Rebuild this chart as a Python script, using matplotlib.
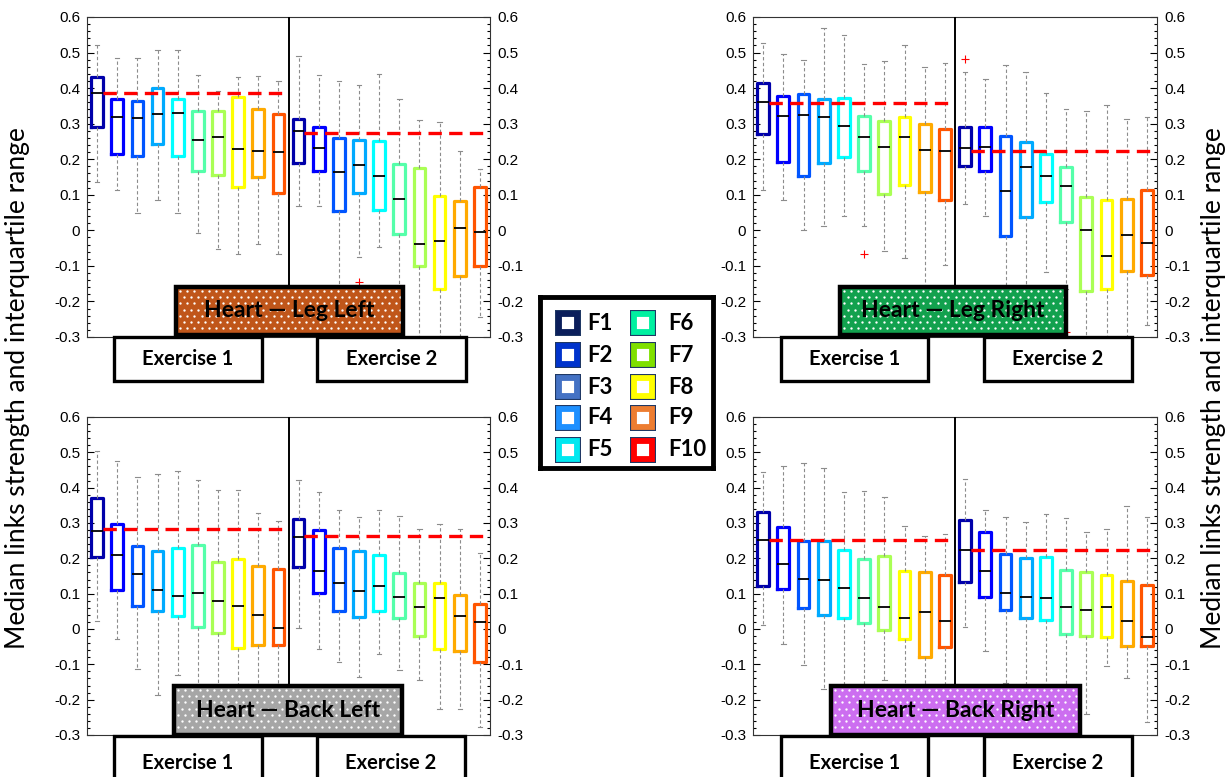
import matplotlib
matplotlib.use("Agg")
import matplotlib.pyplot as plt
import numpy as np
from matplotlib.patches import Rectangle
from matplotlib.lines import Line2D
from matplotlib.ticker import AutoMinorLocator, MultipleLocator

W, H = 1231, 777

# boxes F1..F10 for Exercise 1, then F1..F10 for Exercise 2
leg_left_hi = [0.52, 0.485, 0.485, 0.506, 0.506, 0.437, 0.392, 0.431, 0.434, 0.42,
               0.489, 0.436, 0.419, 0.409, 0.44, 0.368, 0.311, 0.306, 0.224, 0.173]
leg_left_q3 = [0.43, 0.37, 0.365, 0.40, 0.368, 0.337, 0.337, 0.375, 0.342, 0.326,
               0.314, 0.292, 0.259, 0.255, 0.25, 0.186, 0.175, 0.096, 0.083, 0.123]
leg_left_med = [0.386, 0.32, 0.316, 0.327, 0.33, 0.253, 0.263, 0.228, 0.224, 0.22,
                0.278, 0.232, 0.165, 0.184, 0.154, 0.088, -0.038, -0.031, 0.006, -0.004]
leg_left_q1 = [0.29, 0.215, 0.208, 0.243, 0.208, 0.167, 0.156, 0.123, 0.149, 0.104,
               0.189, 0.168, 0.054, 0.104, 0.057, -0.011, -0.1, -0.165, -0.128, -0.1]
leg_left_lo = [0.135, 0.113, 0.049, 0.085, 0.05, -0.008, -0.053, -0.067, -0.039, -0.067,
               0.069, 0.069, -0.25, -0.074, -0.046, -0.3, -0.33, -0.35, -0.32, -0.243]
leg_left_ref = [0.386, 0.275]
leg_left_out = {13: [-0.146]}

leg_right_hi = [0.527, 0.497, 0.48, 0.569, 0.548, 0.469, 0.476, 0.522, 0.46, 0.471,
                0.446, 0.425, 0.466, 0.444, 0.385, 0.342, 0.336, 0.352, 0.314, 0.319]
leg_right_q3 = [0.414, 0.379, 0.383, 0.369, 0.371, 0.321, 0.308, 0.318, 0.3, 0.285,
                0.291, 0.291, 0.264, 0.249, 0.216, 0.178, 0.095, 0.086, 0.089, 0.114]
leg_right_med = [0.36, 0.321, 0.324, 0.318, 0.293, 0.262, 0.234, 0.263, 0.227, 0.223,
                 0.232, 0.234, 0.111, 0.177, 0.153, 0.125, 0.0, -0.072, -0.014, -0.037]
leg_right_q1 = [0.27, 0.193, 0.153, 0.19, 0.206, 0.167, 0.103, 0.128, 0.107, 0.085,
                0.18, 0.166, -0.016, 0.037, 0.079, 0.023, -0.172, -0.164, -0.114, -0.126]
leg_right_lo = [0.114, 0.086, 0.002, 0.012, 0.041, 0.012, -0.058, -0.077, -0.22, -0.097,
                0.075, 0.041, -0.25, -0.2, -0.117, -0.165, -0.32, -0.32, -0.31, -0.265]
leg_right_ref = [0.358, 0.224]
leg_right_out = {5: [-0.067], 10: [0.482], 15: [-0.285]}

back_left_hi = [0.503, 0.476, 0.429, 0.44, 0.446, 0.423, 0.393, 0.393, 0.327, 0.306,
                0.421, 0.388, 0.336, 0.317, 0.338, 0.319, 0.284, 0.296, 0.282, 0.215]
back_left_q3 = [0.372, 0.298, 0.236, 0.222, 0.23, 0.239, 0.189, 0.198, 0.179, 0.17,
                0.31, 0.281, 0.228, 0.22, 0.209, 0.159, 0.129, 0.129, 0.096, 0.07]
back_left_med = [0.277, 0.209, 0.155, 0.109, 0.093, 0.103, 0.078, 0.066, 0.04, 0.003,
                 0.261, 0.164, 0.13, 0.108, 0.121, 0.09, 0.063, 0.089, 0.038, 0.02]
back_left_q1 = [0.204, 0.111, 0.066, 0.05, 0.036, 0.005, -0.011, -0.055, -0.046, -0.046,
                0.176, 0.102, 0.052, 0.034, 0.052, 0.03, -0.02, -0.057, -0.062, -0.092]
back_left_lo = [0.022, -0.027, -0.114, -0.187, -0.131, -0.2, -0.22, -0.25, -0.22, -0.2,
                0.003, -0.056, -0.093, -0.135, -0.072, -0.116, -0.145, -0.227, -0.227, -0.278]
back_left_ref = [0.283, 0.264]
back_left_out = {}

back_right_hi = [0.444, 0.46, 0.469, 0.455, 0.389, 0.391, 0.375, 0.292, 0.262, 0.27,
                 0.424, 0.338, 0.316, 0.302, 0.326, 0.314, 0.274, 0.284, 0.349, 0.318]
back_right_q3 = [0.33, 0.288, 0.25, 0.248, 0.223, 0.198, 0.208, 0.163, 0.161, 0.152,
                 0.309, 0.275, 0.211, 0.201, 0.203, 0.168, 0.162, 0.153, 0.135, 0.125]
back_right_med = [0.251, 0.185, 0.141, 0.139, 0.116, 0.087, 0.062, 0.031, 0.047, 0.023,
                  0.223, 0.163, 0.101, 0.09, 0.088, 0.061, 0.054, 0.061, 0.023, -0.022]
back_right_q1 = [0.122, 0.114, 0.059, 0.04, 0.031, 0.017, -0.004, -0.028, -0.079, -0.052,
                 0.134, 0.09, 0.053, 0.03, 0.026, -0.014, -0.021, -0.024, -0.049, -0.049]
back_right_lo = [0.011, -0.042, -0.103, -0.169, -0.2, -0.2, -0.143, -0.2, -0.22, -0.2,
                 0.006, -0.061, -0.152, -0.2, -0.2, -0.22, -0.241, -0.105, -0.14, -0.264]
back_right_ref = [0.253, 0.225]
back_right_out = {}

feature_labels = ["F1", "F2", "F3", "F4", "F5", "F6", "F7", "F8", "F9", "F10"]
# jet(10) as used for the boxes
box_colors = ["#0000aa", "#0000ff", "#0055ff", "#00aaff", "#00ffff",
              "#55ffaa", "#aaff55", "#ffff00", "#ffaa00", "#ff5500"]
legend_colors = ["#0b1e5b", "#0033cc", "#4472c4", "#1e90ff", "#00e8f0",
                 "#00f0a0", "#7fe000", "#ffff00", "#ed7d31", "#ff0000"]

panels = [
    dict(name="Heart \u2014 Leg Left", color="#c0561a",
         hi=leg_left_hi, q3=leg_left_q3, med=leg_left_med, q1=leg_left_q1, lo=leg_left_lo,
         ref=leg_left_ref, out=leg_left_out,
         ax=(87, 17, 490, 337), title=(176, 287, 403, 335),
         ex1=(114, 337, 262, 381), ex2=(317, 337, 466, 381)),
    dict(name="Heart \u2014 Leg Right", color="#12a14e",
         hi=leg_right_hi, q3=leg_right_q3, med=leg_right_med, q1=leg_right_q1, lo=leg_right_lo,
         ref=leg_right_ref, out=leg_right_out,
         ax=(753, 17, 1157, 337), title=(840, 287, 1066, 335),
         ex1=(781, 337, 928, 381), ex2=(984, 337, 1132, 381)),
    dict(name="Heart \u2014 Back Left", color="#a6a6a6",
         hi=back_left_hi, q3=back_left_q3, med=back_left_med, q1=back_left_q1, lo=back_left_lo,
         ref=back_left_ref, out=back_left_out,
         ax=(87, 417, 490, 735), title=(174, 686, 402, 735),
         ex1=(114, 736, 262, 790), ex2=(317, 736, 465, 790)),
    dict(name="Heart \u2014 Back Right", color="#cc6ef0",
         hi=back_right_hi, q3=back_right_q3, med=back_right_med, q1=back_right_q1, lo=back_right_lo,
         ref=back_right_ref, out=back_right_out,
         ax=(753, 417, 1157, 735), title=(831, 686, 1080, 735),
         ex1=(781, 736, 928, 790), ex2=(984, 736, 1132, 790)),
]


def frac(x0, y0, x1, y1):
    return [x0 / W, 1 - y1 / H, (x1 - x0) / W, (y1 - y0) / H]


def dot_pattern(fig, rect):
    # white polka dots over the coloured label, staggered rows
    x0, y0, x1, y1 = rect
    xs, ys = [], []
    for r, y in enumerate(np.arange(y0 + 4, y1 - 2, 6.2)):
        off = 0 if r % 2 == 0 else 3.6
        for x in np.arange(x0 + 4 + off, x1 - 2, 7.2):
            xs.append(x / W)
            ys.append(1 - y / H)
    fig.add_artist(Line2D(xs, ys, transform=fig.transFigure, linestyle="none",
                          marker="o", markersize=1.7, markerfacecolor="white",
                          markeredgewidth=0, zorder=6))


def label_box(fig, rect, text, face, fontsize, lw, dotted=False):
    x, y, w, h = frac(*rect)
    fig.add_artist(Rectangle((x, y), w, h, transform=fig.transFigure,
                             facecolor=face, edgecolor="none", zorder=5))
    if dotted:
        dot_pattern(fig, rect)
    fig.add_artist(Rectangle((x, y), w, h, transform=fig.transFigure,
                             facecolor="none", edgecolor="black", linewidth=lw, zorder=7))
    fig.text(x + w / 2, y + h / 2, text, ha="center", va="center", fontsize=fontsize,
             fontweight="bold", family="Lato", zorder=8)


plt.rcParams["font.family"] = ["Liberation Sans", "DejaVu Sans"]

fig = plt.figure(figsize=(W / 100, H / 100), dpi=100)

positions = list(range(1, 21))
width = 0.58

for p in panels:
    ax = fig.add_axes(frac(*p["ax"]))
    stats = []
    for i in range(20):
        stats.append(dict(med=p["med"][i], q1=p["q1"][i], q3=p["q3"][i],
                          whislo=p["lo"][i], whishi=p["hi"][i],
                          fliers=p["out"].get(i, [])))
    art = ax.bxp(stats, positions=positions, widths=width, capwidths=0.22,
                 boxprops=dict(linewidth=2.3),
                 whiskerprops=dict(color="#8c8c8c", linewidth=0.8, linestyle=(0, (3, 2.2))),
                 capprops=dict(color="#8c8c8c", linewidth=0.8),
                 medianprops=dict(color="black", linewidth=1.3),
                 flierprops=dict(marker="+", markeredgecolor="red", markersize=6,
                                 markeredgewidth=0.8))
    for i, b in enumerate(art["boxes"]):
        b.set_color(box_colors[i % 10])

    # reference line at the F1 level of each exercise
    for k in range(2):
        x0 = positions[10 * k] + width / 2
        x1 = 10.5 if k == 0 else 20.5
        ax.plot([x0, x1], [p["ref"][k], p["ref"][k]], color="red", linewidth=2.4,
                linestyle=(0, (4, 2.2)), zorder=4)
    ax.axvline(10.5, color="black", linewidth=1.4, zorder=3)

    ax.set_xlim(0.5, 20.5)
    ax.set_ylim(-0.3, 0.6)
    ax.yaxis.set_major_locator(MultipleLocator(0.1))
    ax.yaxis.set_minor_locator(AutoMinorLocator(5))
    ax.yaxis.set_major_formatter(plt.FuncFormatter(lambda v, _: f"{v:g}" if abs(v) > 1e-9 else "0"))
    ax.tick_params(axis="y", which="both", direction="in", left=True, right=True,
                   labelleft=True, labelright=True, labelsize=11, pad=5)
    ax.tick_params(axis="y", which="major", length=5, width=0.8)
    ax.tick_params(axis="y", which="minor", length=2.5, width=0.8)
    ax.tick_params(axis="x", bottom=False, labelbottom=False)
    for s in ax.spines.values():
        s.set_linewidth(0.8)
        s.set_color("#333333")

    label_box(fig, p["title"], p["name"], p["color"], 16.5, 3.2, dotted=True)
    label_box(fig, p["ex1"], "Exercise 1", "white", 14.5, 2.4)
    label_box(fig, p["ex2"], "Exercise 2", "white", 14.5, 2.4)

ylab = "Median links strength and interquartile range"
fig.text(18 / W, 1 - 388 / H, ylab, rotation=90, ha="center", va="center",
         fontsize=19, family="Lato")
fig.text(1213 / W, 1 - 388 / H, ylab, rotation=90, ha="center", va="center",
         fontsize=19, family="Lato")

# legend panel drawn in its own axes
lx0, ly0, lx1, ly1 = 540, 297, 713, 468
lax = fig.add_axes(frac(lx0, ly0, lx1, ly1))
lax.set_xlim(lx0, lx1)
lax.set_ylim(ly1, ly0)
lax.set_xticks([])
lax.set_yticks([])
for s in lax.spines.values():
    s.set_linewidth(3.5)
    s.set_color("black")
row_y = [323, 355, 387, 418, 450]
for i, lab in enumerate(feature_labels):
    col, row = divmod(i, 5)
    mx = 568 if col == 0 else 643
    tx = 587 if col == 0 else 668
    lax.plot([mx], [row_y[row]], linestyle="none", marker="s", markersize=18.5,
             markerfacecolor="#1f3864", markeredgewidth=0)
    lax.plot([mx], [row_y[row]], linestyle="none", marker="s", markersize=13.2,
             markerfacecolor="white", markeredgecolor=legend_colors[i], markeredgewidth=4.2)
    lax.text(tx, row_y[row], lab, ha="left", va="center", fontsize=16,
             fontweight="bold", family="Lato")

fig.savefig("out.png", dpi=100)
